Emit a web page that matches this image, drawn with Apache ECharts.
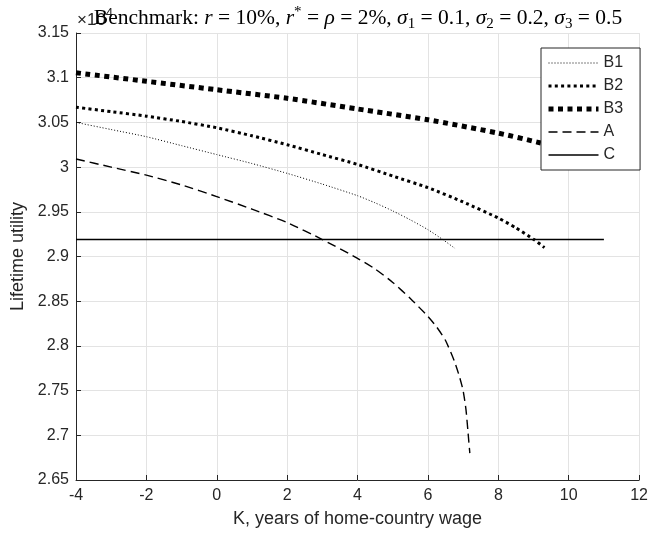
<!DOCTYPE html>
<html><head><meta charset="utf-8">
<script src="https://cdn.jsdelivr.net/npm/echarts@6/dist/echarts.min.js"></script>
<style>html,body{margin:0;padding:0;background:#fff}#c{width:651px;height:533px}</style>
</head><body><div id="c"></div>
<script>
// ---- data (values in units of 10^4) ----
const xTicks = [-4, -2, 0, 2, 4, 6, 8, 10, 12];
const yTicks = [2.65, 2.7, 2.75, 2.8, 2.85, 2.9, 2.95, 3, 3.05, 3.1, 3.15];
const seriesNames = ['B1', 'B2', 'B3', 'A', 'C'];

const b1X = [-4, -3, -2, -1, 0, 1, 2, 3, 4, 4.5, 5, 5.5, 6, 6.42, 6.77];
const b1Y = [3.050, 3.042, 3.034, 3.024, 3.014, 3.004, 2.993, 2.981, 2.968, 2.960, 2.951, 2.941, 2.930, 2.919, 2.909];

const b2X = [-4, -3, -2, -1, 0, 1, 2, 3, 4, 5, 6, 7, 8, 8.5, 9.01, 9.31];
const b2Y = [3.067, 3.062, 3.057, 3.051, 3.044, 3.035, 3.025, 3.014, 3.003, 2.990, 2.977, 2.961, 2.943, 2.932, 2.919, 2.910];

const b3X = [-4, -2, 0, 2, 4, 6, 8, 9.1, 10, 11];
const b3Y = [3.1055, 3.096, 3.0865, 3.077, 3.065, 3.053, 3.038, 3.028, 3.019, 3.008];

const aX = [-4, -3, -2, -1, 0, 1, 2, 3, 4, 4.5, 5, 5.5, 6.0, 6.25, 6.5, 6.75, 6.9, 7.0, 7.08, 7.14, 7.19];
const aY = [3.009, 3.000, 2.991, 2.980, 2.967, 2.953, 2.938, 2.919, 2.898, 2.886, 2.871, 2.853, 2.833, 2.821, 2.806, 2.783, 2.765, 2.750, 2.729, 2.703, 2.680];

const cX = [-4, 11];
const cY = [2.919, 2.919];

const zip = (xs, ys) => xs.map((x, i) => [x, ys[i]]);

const lineStyles = {
  B1: { color: '#000', width: 1, type: [1, 2] },
  B2: { color: '#000', width: 3, type: [3, 3.3] },
  B3: { color: '#000', width: 5, type: [5, 4.5] },
  A:  { color: '#000', width: 1.4, type: [9, 5] },
  C:  { color: '#000', width: 1.5, type: 'solid' }
};
const dataSets = { B1: zip(b1X, b1Y), B2: zip(b2X, b2Y), B3: zip(b3X, b3Y), A: zip(aX, aY), C: zip(cX, cY) };

const axisColor = '#262626';
const serif = 'Liberation Serif';
const chart = echarts.init(document.getElementById('c'), null, { renderer: 'canvas' });

chart.setOption({
  animation: false,
  backgroundColor: '#fff',
  title: {
    left: 353, top: 0, textAlign: 'center',
    text: '{n|Benchmark: }{i|r}{n| = 10%, }{i|r}{sup|*}{n| = }{i|ρ}{n| = 2%, }{i|σ}{sub|1}{n| = 0.1, }{i|σ}{sub|2}{n| = 0.2, }{i|σ}{sub|3}{n| = 0.5}',
    textStyle: {
      fontWeight: 'normal',
      rich: {
        n: { fontFamily: serif, fontWeight: 'normal', fontSize: 21.5, color: '#000', lineHeight: 27 },
        i: { fontFamily: serif, fontWeight: 'normal', fontStyle: 'italic', fontSize: 21.5, color: '#000', lineHeight: 27 },
        sub: { fontFamily: serif, fontWeight: 'normal', fontSize: 15, color: '#000', lineHeight: 16, verticalAlign: 'bottom' },
        sup: { fontFamily: serif, fontWeight: 'normal', fontSize: 15, color: '#000', lineHeight: 16, verticalAlign: 'top' }
      }
    }
  },
  graphic: [{
    type: 'text', left: 77, top: 7, z: 0,
    style: {
      text: '{a|×10}{b|4}',
      rich: {
        a: { fontFamily: 'Liberation Sans', fontSize: 17, fill: axisColor, lineHeight: 22, verticalAlign: 'bottom' },
        b: { fontFamily: 'Liberation Sans', fontSize: 13, fill: axisColor, lineHeight: 14, verticalAlign: 'top' }
      }
    }
  }],
  grid: { left: 76, right: 9, top: 33, bottom: 52, containLabel: false },
  xAxis: {
    type: 'value', min: xTicks[0], max: xTicks[xTicks.length - 1], interval: xTicks[1] - xTicks[0],
    name: 'K, years of home-country wage', nameLocation: 'middle', nameGap: 30,
    nameTextStyle: { fontFamily: 'Liberation Sans', fontSize: 18, color: axisColor },
    axisLine: { onZero: false, lineStyle: { color: axisColor, width: 1 } },
    axisTick: { inside: true, length: 5, lineStyle: { color: axisColor } },
    axisLabel: { fontFamily: 'Liberation Sans', fontSize: 16, color: axisColor, margin: 8 },
    splitLine: { show: true, lineStyle: { color: '#e3e3e3', width: 1 } }
  },
  yAxis: {
    type: 'value', min: yTicks[0], max: yTicks[yTicks.length - 1], interval: 0.05,
    name: 'Lifetime utility', nameLocation: 'middle', nameGap: 45,
    nameTextStyle: { fontFamily: 'Liberation Sans', fontSize: 18, color: axisColor },
    axisLine: { onZero: false, lineStyle: { color: axisColor, width: 1 } },
    axisTick: { inside: true, length: 5, lineStyle: { color: axisColor } },
    axisLabel: { fontFamily: 'Liberation Sans', fontSize: 16, color: axisColor, margin: 7,
      formatter: v => String(parseFloat(v.toFixed(2))) },
    splitLine: { show: true, lineStyle: { color: '#e3e3e3', width: 1 } }
  },
  legend: {
    orient: 'vertical', left: 541, top: 48,
    data: seriesNames,
    itemWidth: 50, itemHeight: 14, itemGap: 7,
    padding: [7, 17, 7, 5],
    backgroundColor: '#fff', borderColor: axisColor, borderWidth: 1,
    textStyle: { fontFamily: 'Liberation Sans', fontSize: 16, color: axisColor },
    itemStyle: { opacity: 0 },
    lineStyle: { width: 'inherit' }
  },
  series: seriesNames.map(n => ({
    name: n, type: 'line', data: dataSets[n], symbol: 'none', showSymbol: false,
    smooth: n === 'C' ? false : 0.2,
    lineStyle: lineStyles[n], itemStyle: { color: '#000' },
    clip: true
  }))
});
</script></body></html>
